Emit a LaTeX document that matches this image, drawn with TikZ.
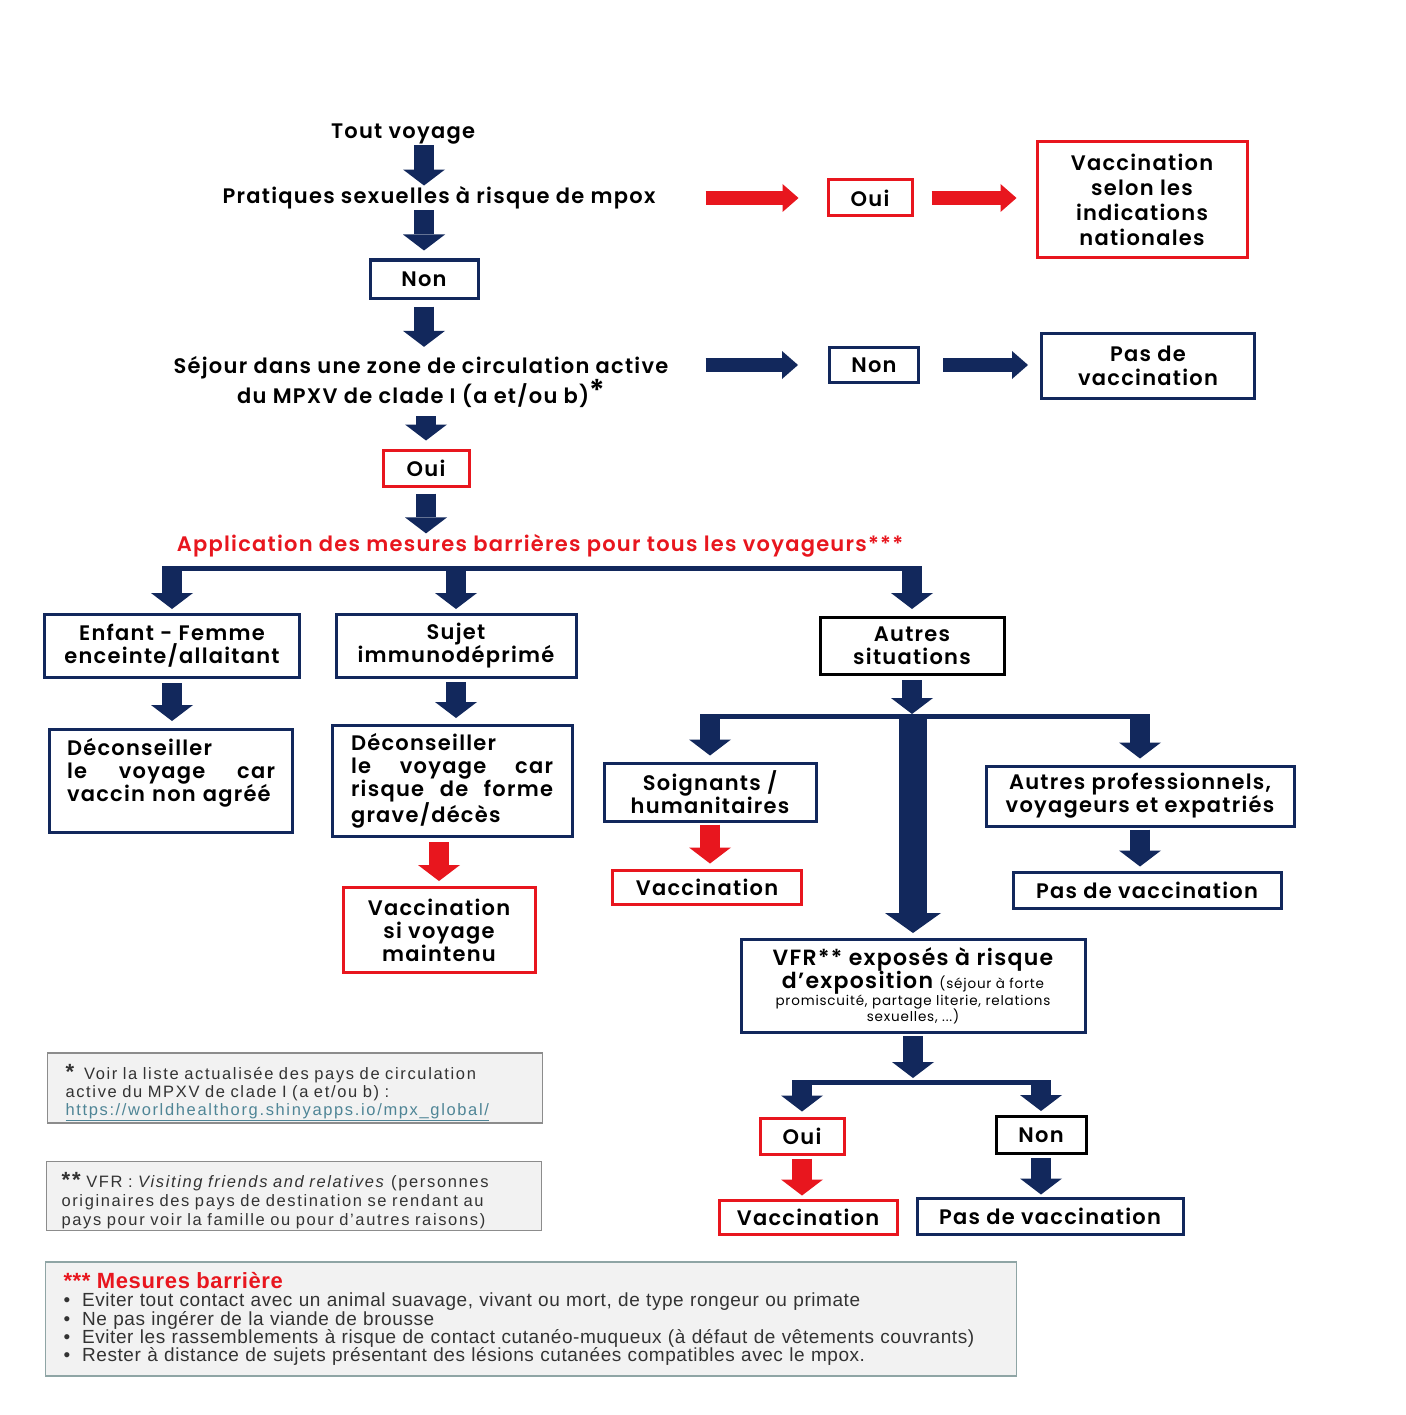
\documentclass[tikz,border=0pt]{standalone}
\usepackage{fontspec}
\setmainfont{Poppins}[BoldFont={* SemiBold}, LetterSpace=6]
\newfontfamily\notefont{Liberation Sans}[LetterSpace=10]
\newfontfamily\listfont{Liberation Sans}[LetterSpace=3]
\usetikzlibrary{arrows.meta}

\definecolor{navy}{HTML}{12285C}
\definecolor{vred}{HTML}{E8161E}
\definecolor{notefill}{HTML}{F2F2F2}
\definecolor{noteline}{HTML}{8C8C8C}
\definecolor{listline}{HTML}{8FA5A5}
\definecolor{linkcol}{HTML}{4F8596}
\definecolor{notetext}{HTML}{333333}

\tikzset{
  lbl/.style={font=\bfseries\fontsize{21}{24}\selectfont, inner sep=0pt, align=center},
  nbox/.style={lbl, draw=navy, line width=3pt, fill=white},
  rbox/.style={nbox, draw=vred},
  kbox/.style={nbox, draw=black},
  notebox/.style={draw=noteline, line width=1.2pt, fill=notefill, inner sep=0pt, align=left,
    text=notetext, font=\notefont\fontsize{16.5}{18}\selectfont},
  darr/.style={draw=navy, line width=20pt, -{Triangle[length=16pt, width=42pt, line width=0pt]}},
  bigarr/.style={darr, line width=28pt, -{Triangle[length=20pt, width=56pt, line width=0pt]}},
  rarr/.style={darr, draw=vred},
  harr/.style={draw=navy, line width=14pt, -{Triangle[length=16pt, width=28pt, line width=0pt]}},
  rharr/.style={harr, draw=vred},
  bar/.style={draw=navy, line width=5pt},
}

\begin{document}
\begin{tikzpicture}[x=1pt, y=-1pt]
		%%%%% START %%%%%
		\fill[white] (0,0) rectangle (1405,1415);
		\useasboundingbox (0,0) rectangle (1405,1415);
		
		%%%%% top question
		\node[lbl] (tout) at (403,134) {Tout voyage};
		\node[lbl] (prat) at (439,198) {Pratiques sexuelles à risque de mpox};
		\node[rbox, minimum width=84, minimum height=36] (oui2) at (870,198) {Oui};
		\node[rbox, minimum width=210, minimum height=116, font=\bfseries\fontsize{21}{25}\selectfont] (vacnat) at (1142,200) {Vaccination\\selon les\\indications\\nationales};
		\node[nbox, minimum width=108, minimum height=38] (non1) at (424,279) {Non};
		
		\draw[darr, shorten <=1, shorten >=1] (tout.south -| non1) -- (prat.north -| non1);
		\draw[darr, shorten <=1, shorten >=8] (prat.south -| non1) -- (non1.north);
		\draw[rharr, shorten <=50, shorten >=28] (prat.east |- oui2.west) -- (oui2.west);
		\draw[rharr, shorten <=18, shorten >=19] (oui2.east) -- (oui2.east -| vacnat.west);
		
		%%%%% zone
		\node[lbl, font=\bfseries\fontsize{21}{29}\selectfont] (sejour) at (421,382) {Séjour dans une zone de circulation active\\du MPXV de clade I (a et/ou b)\raisebox{2pt}{\fontsize{30}{30}\selectfont*}};
		\node[nbox, minimum width=89, minimum height=35] (non2) at (874,365) {Non};
		\node[nbox, minimum width=213, minimum height=65] (pasvac1) at (1148,366) {Pas de\\vaccination};
		\node[rbox, minimum width=86, minimum height=36] (oui1) at (426,468) {Oui};
		
		\draw[darr, shorten <=7, shorten >=9] (non1.south) -- (sejour.north -| non1);
		\draw[harr, shorten <=37, shorten >=30] (sejour.east |- non2.west) -- (non2.west);
		\draw[harr, shorten <=23, shorten >=12] (non2.east) -- (non2.east -| pasvac1.west);
		\draw[darr, shorten <=8, shorten >=8] (sejour.south -| oui1) -- (oui1.north);
		
		\node[lbl, text=vred] (appl) at (540,546) {Application des mesures barrières pour tous les voyageurs***};
		\draw[darr, shorten <=6, shorten >=1] (oui1.south) -- (appl.north -| oui1);
		
		%%%%% first split
		\node[nbox, minimum width=255, minimum height=63, font=\bfseries\fontsize{21}{23}\selectfont] (enfant) at (172,646) {Enfant - Femme\\enceinte/allaitant};
		\node[nbox, minimum width=240, minimum height=63, font=\bfseries\fontsize{21}{23}\selectfont] (sujet) at (456,646) {Sujet\\immunodéprimé};
		\node[kbox, minimum width=184, minimum height=57, font=\bfseries\fontsize{21}{23}\selectfont] (autres) at (912,646) {Autres\\situations};
		
		\coordinate (bar1w) at (162,568);
		\coordinate (bar1e) at (922,568);
		\draw[bar] (bar1w) -- (bar1e);
		\draw[darr, shorten >=4] (enfant |- bar1w) -- (enfant.north);
		\draw[darr, shorten >=4] (sujet |- bar1w) -- (sujet.north);
		\draw[darr, shorten >=7] (autres |- bar1w) -- (autres.north);
		
		\node[nbox, minimum width=243, minimum height=103, text width=208, align=left, font=\bfseries\fontsize{21}{23}\selectfont] (decon1) at (171,781) {Déconseiller\\le\hfill voyage\hfill car\\vaccin non agréé\\\mbox{}};
		\node[nbox, minimum width=240, minimum height=111, text width=202, align=left, font=\bfseries\fontsize{21}{23}\selectfont] (decon2) at (452,781) {Déconseiller\\le\hfill voyage\hfill car\\risque\hfill de\hfill forme\\grave/décès};
		\node[rbox, minimum width=192, minimum height=85, font=\bfseries\fontsize{21}{23}\selectfont] (vacmain) at (439,930) {Vaccination\\si voyage\\maintenu};
		
		\draw[darr, shorten <=4, shorten >=7] (enfant.south) -- (decon1.north -| enfant);
		\draw[darr, shorten <=3, shorten >=6] (sujet.south) -- (decon2.north -| sujet);
		\draw[rarr, shorten <=4, shorten >=5] (decon2.south -| vacmain) -- (vacmain.north);
		
		%%%%% autres situations
		\node[nbox, minimum width=212, minimum height=58, font=\bfseries\fontsize{21}{23}\selectfont] (soign) at (710,792) {Soignants /\\humanitaires};
		\node[rbox, minimum width=189, minimum height=34] (vac2) at (707,887) {Vaccination};
		\node[nbox, minimum width=308, minimum height=60, font=\bfseries\fontsize{21}{23}\selectfont] (autpro) at (1140,796) {Autres professionnels,\\voyageurs et expatriés};
		\node[nbox, minimum width=268, minimum height=36] (pasvac2) at (1147,890) {Pas de vaccination};
		\node[nbox, minimum width=344, minimum height=93] (vfr) at (913,986) {{\fontsize{22}{24}\selectfont VFR** exposés à risque}\\[-1pt]{\fontsize{22}{24}\selectfont d’exposition} {\mdseries\fontsize{13.5}{16}\selectfont (séjour à forte}\\[-7pt]{\mdseries\fontsize{13.5}{16}\selectfont promiscuité, partage literie, relations}\\[-8pt]{\mdseries\fontsize{13.5}{16}\selectfont sexuelles, ...)}};
		
		\coordinate (bar2w) at (700,716);
		\coordinate (bar2e) at (1150,716);
		\draw[darr, shorten <=4, shorten >=2] (autres.south) -- (autres |- bar2w);
		\draw[bar] (bar2w) -- (bar2e);
		\draw[darr, shorten >=6] (soign |- bar2w) -- (soign.north);
		\draw[bigarr, shorten >=5] (vfr |- bar2w) -- (vfr.north);
		\draw[darr, shorten >=6] (autpro |- bar2w) -- (autpro.north);
		\draw[rarr, shorten <=2, shorten >=5] (soign.south) -- (vac2.north -| soign);
		\draw[darr, shorten <=2, shorten >=4] (autpro.south) -- (pasvac2.north -| autpro);
		
		%%%%% VFR
		\node[rbox, minimum width=84, minimum height=36] (oui3) at (802,1136) {Oui};
		\node[kbox, minimum width=90, minimum height=37] (non3) at (1041,1135) {Non};
		\node[rbox, minimum width=178, minimum height=34] (vac3) at (808,1217) {Vaccination};
		\node[nbox, minimum width=266, minimum height=36] (pasvac3) at (1050,1216) {Pas de vaccination};
		
		\coordinate (bar3w) at (792,1082);
		\coordinate (bar3e) at (1051,1082);
		\draw[darr, shorten <=2, shorten >=4] (vfr.south) -- (vfr |- bar3w);
		\draw[bar] (bar3w) -- (bar3e);
		\draw[darr, shorten >=5] (oui3 |- bar3w) -- (oui3.north);
		\draw[darr, shorten >=4] (non3 |- bar3w) -- (non3.north);
		\draw[rarr, shorten <=3, shorten >=3] (oui3.south) -- (vac3.north -| oui3);
		\draw[darr, shorten <=3, shorten >=2] (non3.south) -- (pasvac3.north -| non3);
		
		%%%%% notes
		\node[notebox, minimum width=495, minimum height=70, text width=459] (note1) at (295,1088) {\rule{0pt}{24pt}{\bfseries\fontsize{22}{18}\selectfont*}\hspace{10pt}Voir la liste actualisée des pays de circulation\\active du MPXV de clade I (a et/ou b) :\\\textcolor{linkcol}{\underline{https://worldhealthorg.shinyapps.io/mpx\_global/}}};
		\node[notebox, minimum width=495, minimum height=69, text width=465, font=\notefont\fontsize{16.5}{19}\selectfont] (note2) at (294,1196) {\rule{0pt}{25pt}{\bfseries\fontsize{22}{18}\selectfont**} VFR : \textit{Visiting friends and relatives} (personnes\\originaires des pays de destination se rendant au\\pays pour voir la famille ou pour d’autres raisons)};
		\node[notebox, draw=listline, fill=notefill, minimum width=971, minimum height=114, text width=935, font=\listfont\fontsize{19}{18.3}\selectfont] (mesures) at (531,1319) {{\bfseries\fontsize{22}{18.3}\selectfont\color{vred}*** Mesures barrière}\\
			\textbullet\hspace{12pt}Eviter tout contact avec un animal suavage, vivant ou mort, de type rongeur ou primate\\
			\textbullet\hspace{12pt}Ne pas ingérer de la viande de brousse\\
			\textbullet\hspace{12pt}Eviter les rassemblements à risque de contact cutanéo-muqueux (à défaut de vêtements couvrants)\\
			\textbullet\hspace{12pt}Rester à distance de sujets présentant des lésions cutanées compatibles avec le mpox.};
		
		%%%%% END %%%%%
\end{tikzpicture}
\end{document}
